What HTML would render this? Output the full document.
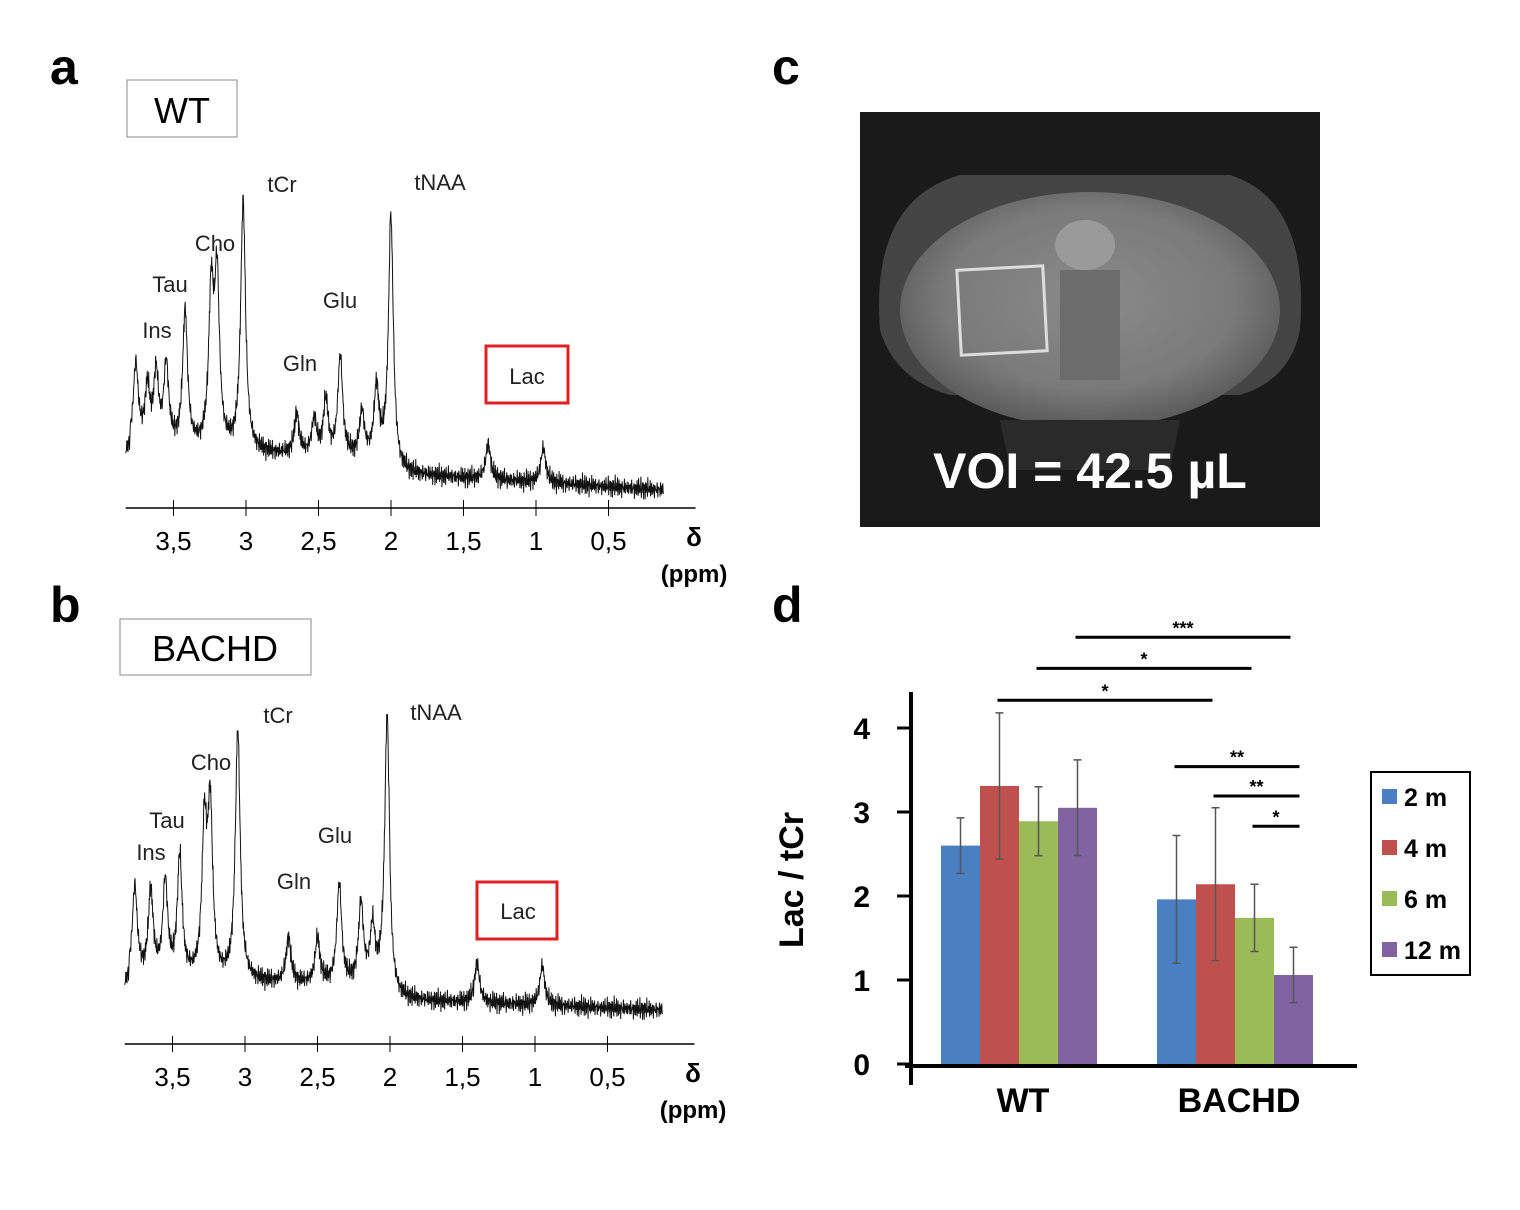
<!DOCTYPE html>
<html><head><meta charset="utf-8"><style>
body{margin:0;background:#fff;}
svg{display:block;font-family:"Liberation Sans",sans-serif;}
</style></head><body>
<svg id="fig" width="1520" height="1210" viewBox="0 0 1520 1210">
<defs>
<radialGradient id="brain" cx="50%" cy="45%" r="55%">
<stop offset="0" stop-color="#8a8a8a"/><stop offset="0.7" stop-color="#7a7a7a"/><stop offset="1" stop-color="#5a5a5a"/>
</radialGradient>
</defs>
<g font-weight="bold" font-size="50" fill="#000">
<text x="50" y="84">a</text>
<text x="50" y="622">b</text>
<text x="772" y="84">c</text>
<text x="772" y="622">d</text>
</g>
<g>
<rect x="127" y="80" width="110" height="57" fill="#fff" stroke="#888"/>
<text x="182" y="123" font-size="36" text-anchor="middle">WT</text>
<rect x="486" y="346" width="82" height="57" fill="none" stroke="#e02020" stroke-width="3"/>
<g id="specA"></g>
</g>
<g>
<rect x="120" y="619" width="191" height="56" fill="#fff" stroke="#888"/>
<text x="215" y="661" font-size="36" text-anchor="middle">BACHD</text>
<rect x="477" y="882" width="80" height="57" fill="none" stroke="#e02020" stroke-width="3"/>
<g id="specB"></g>
</g>
<g>
<rect x="860" y="112" width="460" height="415" fill="#1a1a1a"/>
<path d="M880 330 Q870 200 960 175 L1230 175 Q1310 200 1300 330 Q1290 380 1240 395 L950 395 Q895 380 880 330Z" fill="#444"/>
<ellipse cx="1090" cy="310" rx="190" ry="118" fill="url(#brain)"/>
<ellipse cx="1085" cy="245" rx="30" ry="25" fill="#9a9a9a"/>
<rect x="1060" y="270" width="60" height="110" fill="#6c6c6c"/>
<path d="M1000 420 L1180 420 L1170 470 L1010 470Z" fill="#2a2a2a"/>
<rect x="959" y="268" width="86" height="85" fill="none" stroke="#ddd" stroke-width="3" transform="rotate(-3 1002 310)"/>
<text x="1090" y="488" font-size="50" font-weight="bold" fill="#fff" text-anchor="middle">VOI = 42.5 µL</text>
</g>
<g id="barchart"></g>
</svg>
<script>
const NS="http://www.w3.org/2000/svg";
function mk(tag,attrs,parent,txt){const e=document.createElementNS(NS,tag);for(const k in attrs)e.setAttribute(k,attrs[k]);if(txt!==undefined)e.textContent=txt;parent.appendChild(e);return e;}

// ---- spectra data ----
const ppmTicks=[3.5,3,2.5,2,1.5,1,0.5];
const tickLabels=["3,5","3","2,5","2","1,5","1","0,5"];
const peaksPpmA=[3.76,3.68,3.62,3.55,3.42,3.24,3.2,3.02,2.65,2.53,2.45,2.35,2.2,2.1,2.0,1.33,0.95];
const peaksHA=[80,55,70,80,135,150,165,250,40,35,55,100,45,70,250,35,35];
const peaksPpmB=[3.76,3.65,3.55,3.45,3.28,3.24,3.05,2.7,2.5,2.35,2.2,2.12,2.02,1.4,0.95];
const peaksHB=[90,85,95,120,145,165,250,45,45,100,80,55,270,40,40];
const labelsA=[["Ins",157,338],["Tau",170,292],["Cho",215,251],["tCr",282,192],["tNAA",440,190],["Glu",340,308],["Gln",300,371],["Lac",527,384]];
const labelsB=[["Ins",151,860],["Tau",167,828],["Cho",211,770],["tCr",278,723],["tNAA",436,720],["Glu",335,843],["Gln",294,889],["Lac",518,919]];

function spectrum(g,peaks,hs,x3,pxPerPpm,axisY,base0,base1,labels){
  const X=p=>x3+(3-p)*pxPerPpm;
  mk('line',{x1:X(3.83),x2:X(-0.1),y1:axisY,y2:axisY,stroke:'#000','stroke-width':1.5},g);
  ppmTicks.forEach((p,i)=>{
    const t=mk('line',{x1:X(p),x2:X(p),y1:axisY-8,y2:axisY+8,stroke:'#000'},g);
    
    
    const l=mk('text',{x:X(p),y:axisY+42,'font-size':26,'text-anchor':'middle'},g,tickLabels[i]);
    
    
  });
  mk('text',{x:X(-0.09),y:axisY+38,'font-size':26,'font-weight':'bold','text-anchor':'middle'},g,'δ');
  mk('text',{x:X(-0.09),y:axisY+74,'font-size':24,'font-weight':'bold','text-anchor':'middle'},g,'(ppm)');
  let d='';
  for(let i=0;i<=1400;i++){
    const p=3.83-i*(3.83-0.12)/1400;
    const f=(3.83-p)/3.71;
    let y=base0+(base1-base0)*f;
    if(p>2.0&&p<3.8) y-=12;
    hs.forEach((h,k)=>{const w=0.02;const dx=p-peaks[k];y-=h*w*w/(dx*dx+w*w);});
    y+=8*Math.sin(i*1.7)*Math.cos(i*0.37)+5*Math.sin(i*3.1+1);
    d+=(i?'L':'M')+X(p).toFixed(1)+' '+y.toFixed(1);
  }
  const pth=mk('path',{d:d,fill:'none',stroke:'#111','stroke-width':1},g);
  
  
  labels.forEach(l=>{
    const t=mk('text',{x:l[1],y:l[2],'font-size':22,'text-anchor':'middle',fill:'#222'},g,l[0]);
    
    
  });
}
spectrum(document.getElementById('specA'),peaksPpmA,peaksHA,246,145,508,458,490,labelsA);
spectrum(document.getElementById('specB'),peaksPpmB,peaksHB,245,145,1044,990,1010,labelsB);

// ---- bar chart ----
const groups=["WT","BACHD"];
const seriesNames=["2 m","4 m","6 m","12 m"];
const colors=["#4a7fc1","#c0504d","#9bbb59","#8064a2"];
const means=[[2.6,3.31,2.89,3.05],[1.96,2.14,1.74,1.06]];
const errs=[[0.33,0.87,0.41,0.57],[0.76,0.91,0.4,0.33]];
const yTicks=[0,1,2,3,4];
const sigY=[5.08,4.71,4.33,3.54,3.19,2.83];
const sigFrom=[[0,3],[0,2],[0,1],[1,0],[1,1],[1,2]];
const sigTo=[[1,3],[1,2],[1,1],[1,3],[1,3],[1,3]];
const sigLab=["***","*","*","**","**","*"];

const bc=document.getElementById('barchart');
const Y=v=>1064-v*84;
const groupStart=[941,1157], bw=39;
const BX=(g,s)=>groupStart[g]+s*bw;
mk('line',{x1:911,x2:911,y1:692,y2:1085,stroke:'#000','stroke-width':4},bc);
mk('line',{x1:905,x2:1357,y1:1066,y2:1066,stroke:'#000','stroke-width':4},bc);
yTicks.forEach(v=>{
  mk('line',{x1:897,x2:911,y1:Y(v),y2:Y(v),stroke:'#000','stroke-width':3},bc);
  const t=mk('text',{x:870,y:Y(v)+11,'font-size':30,'font-weight':'bold','text-anchor':'end'},bc,String(v));
  
  
});
const yt=mk('text',{x:0,y:0,'font-size':34,'font-weight':'bold','text-anchor':'middle',transform:'translate(803,880) rotate(-90)'},bc,'Lac / tCr');


groups.forEach((gn,g)=>{
  const t=mk('text',{x:groupStart[g]+2*bw+4,y:1112,'font-size':34,'font-weight':'bold','text-anchor':'middle'},bc,gn);
  
  
  means[g].forEach((m,s)=>{
    const r=mk('rect',{x:BX(g,s),y:Y(m),width:bw,height:Y(0)-Y(m),fill:colors[s]},bc);
    
    
    const cx=BX(g,s)+bw/2,e=errs[g][s];
    const eb=mk('path',{d:`M${cx} ${Y(m+e)}V${Y(m-e)}M${cx-4} ${Y(m+e)}H${cx+4}M${cx-4} ${Y(m-e)}H${cx+4}`,stroke:'#555','stroke-width':1.5,fill:'none'},bc);
    
    
  });
});
sigY.forEach((v,i)=>{
  const x1=BX(sigFrom[i][0],sigFrom[i][1])+bw/2-2, x2=BX(sigTo[i][0],sigTo[i][1])+bw/2+(i>=3?6:-3);
  const l=mk('line',{x1:x1,x2:x2,y1:Y(v),y2:Y(v),stroke:'#000','stroke-width':3},bc);
  
  
  const t=mk('text',{x:(x1+x2)/2,y:Y(v)-3,'font-size':18,'font-weight':'bold','text-anchor':'middle'},bc,sigLab[i]);
  
  
});
const lg=mk('g',{},bc);


mk('rect',{x:1371,y:772,width:99,height:203,fill:'#fff',stroke:'#000','stroke-width':2},lg);
seriesNames.forEach((n,s)=>{
  const yy=797+s*51;
  mk('rect',{x:1382,y:yy-8,width:15,height:15,fill:colors[s]},lg);
  const t=mk('text',{x:1404,y:yy+9,'font-size':25,'font-weight':'bold'},lg,n);
  
  
});
</script>
</body></html>
